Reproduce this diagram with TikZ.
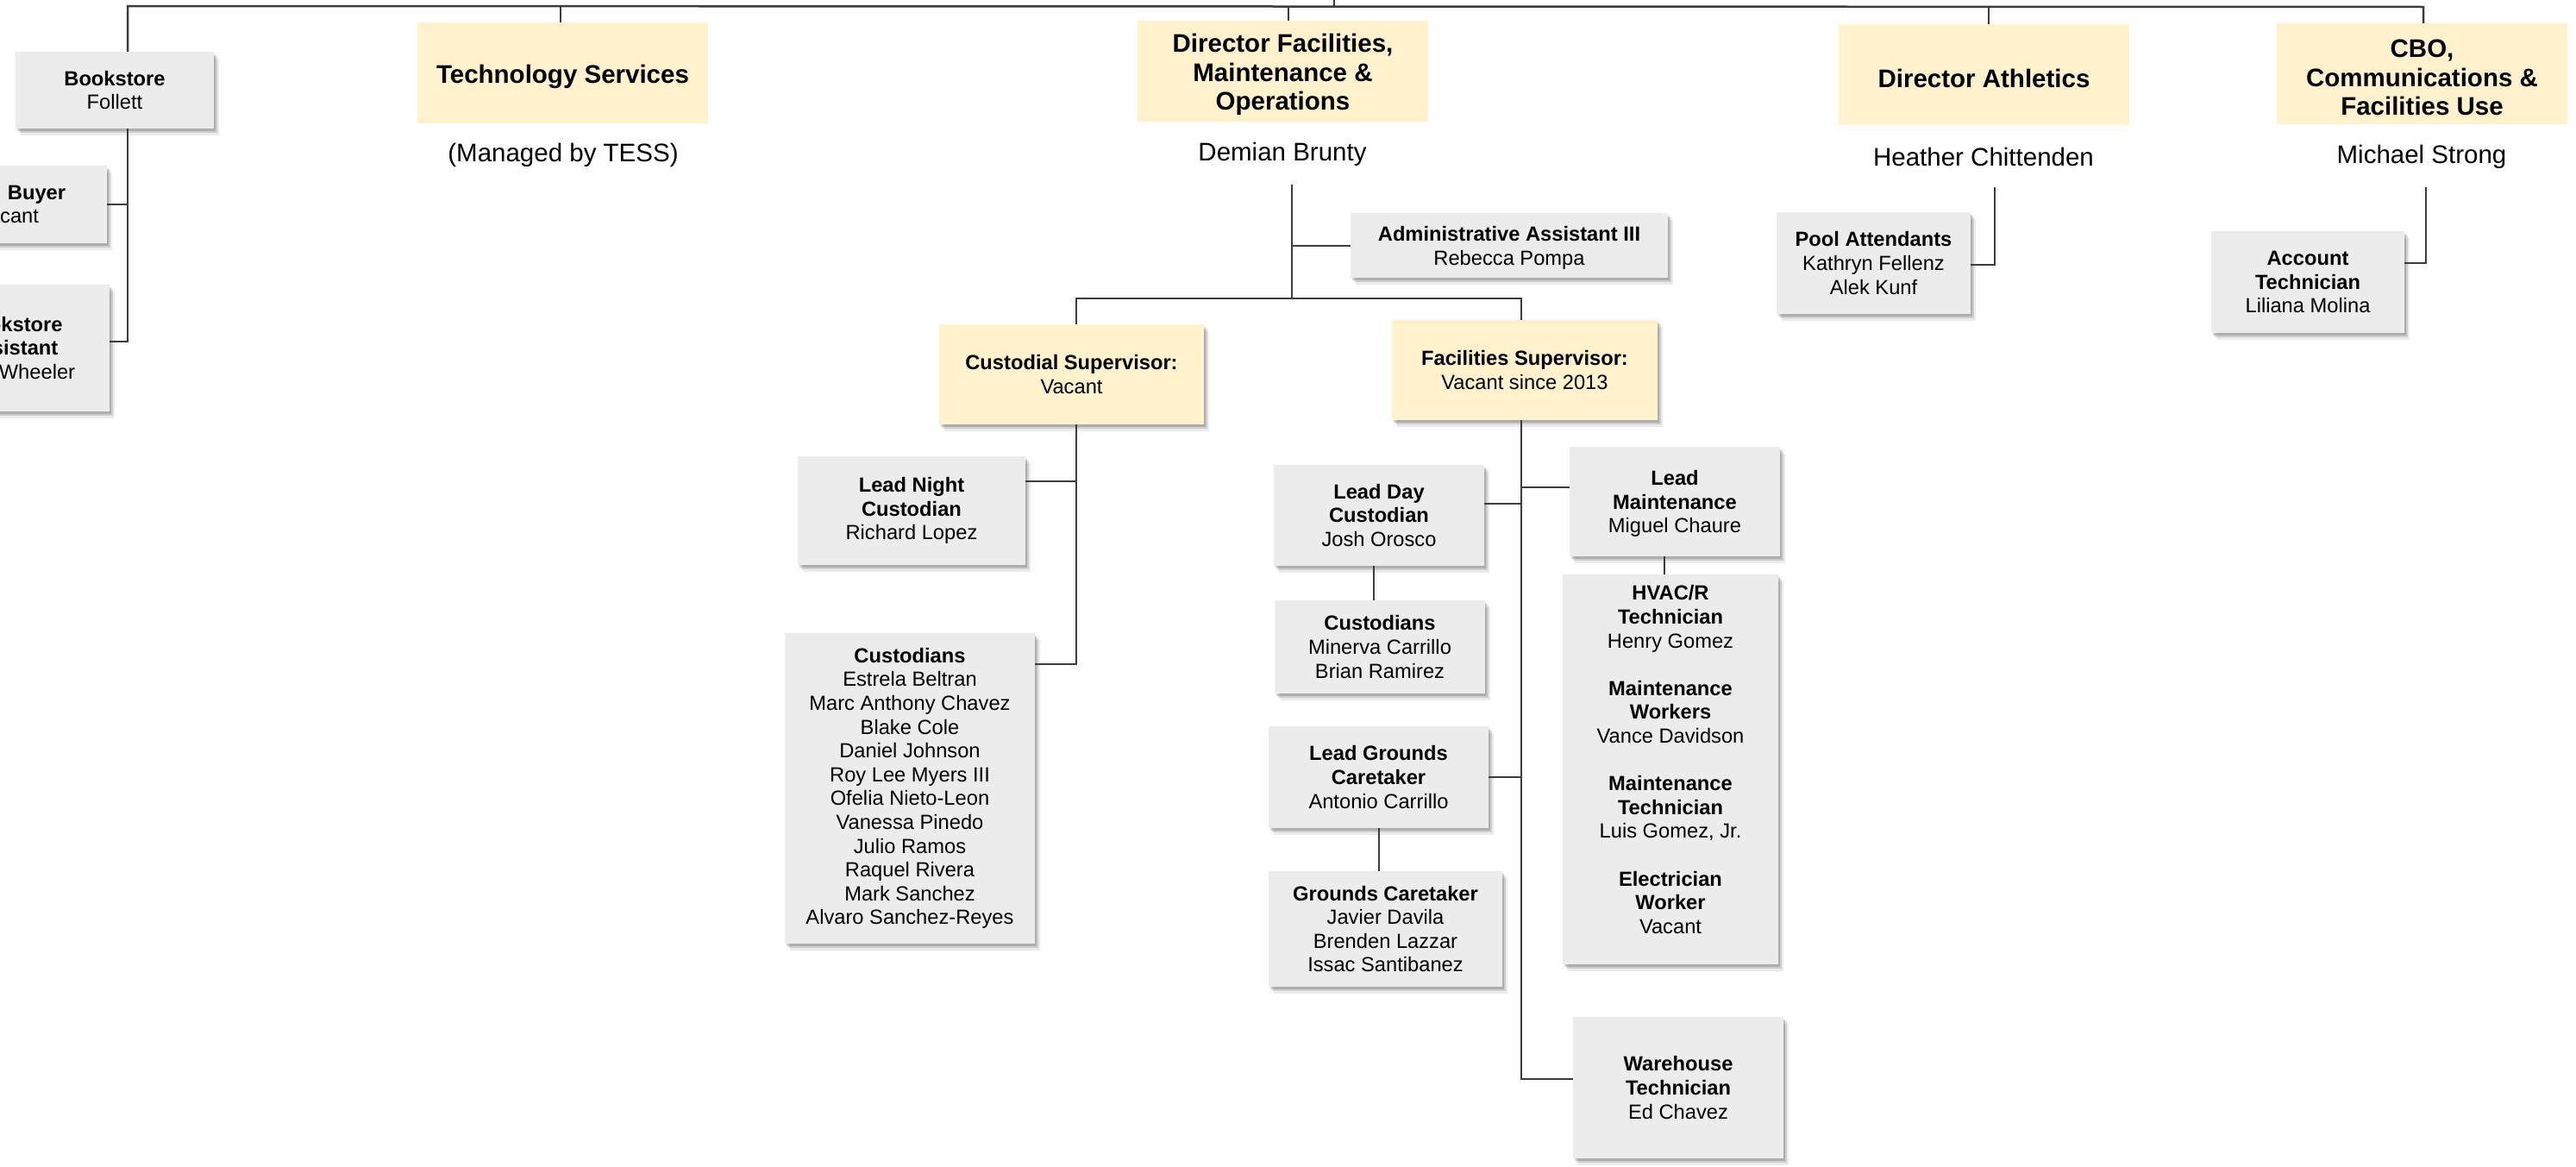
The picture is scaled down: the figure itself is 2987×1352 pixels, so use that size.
\documentclass[tikz,border=0pt]{standalone}
\usepackage{fontspec}
\setmainfont{Liberation Sans}
\usetikzlibrary{shadows}
\definecolor{boxgray}{HTML}{ECECEC}
\definecolor{boxyellow}{HTML}{FFF2CC}
\definecolor{linegray}{HTML}{3C3C3C}
\newcommand{\tstrut}{\rule{0pt}{30pt}}
\begin{document}
\begin{tikzpicture}[x=1pt,y=-1pt,
  softshadow/.style={
    general shadow={shadow xshift=2pt,shadow yshift=-3pt,fill=black,opacity=.16},
    general shadow={shadow xshift=4pt,shadow yshift=-5pt,fill=black,opacity=.12},
    general shadow={shadow xshift=6pt,shadow yshift=-8pt,fill=black,opacity=.08}},
  gbox/.style={fill=boxgray, softshadow, inner sep=0pt, align=center,
    font=\fontsize{23.7}{27.6}\selectfont},
  ybox/.style={gbox, fill=boxyellow},
  tbox/.style={fill=boxyellow, inner sep=0pt, align=center,
    font=\bfseries\fontsize{29.5}{33.5}\selectfont},
  nametext/.style={inner sep=0pt, minimum height=70pt,
    font=\fontsize{29.5}{33.5}\selectfont},
  conn/.style={draw=linegray, line width=2pt},
  bar/.style={draw=linegray, line width=2.5pt},
]
\useasboundingbox (0,0) rectangle (2987,1352);

% ---------- top level titles ----------
\node[tbox, minimum width=337pt, minimum height=117pt] (techsvc) at (652.5,84.5) {\tstrut Technology Services};
\node[nametext] (managed) at (653,180) {(Managed by TESS)};

\node[tbox, minimum width=337pt, minimum height=117pt] (dirfac) at (1487.5,82.5) {\tstrut Director Facilities,\\Maintenance \&\\Operations};
\node[nametext] (demian) at (1487,179) {Demian Brunty};

\node[tbox, minimum width=337pt, minimum height=117pt] (dirath) at (2300.5,86.5) {\tstrut Director Athletics};
\node[nametext] (heather) at (2300,182) {Heather Chittenden};

\node[tbox, minimum width=337pt, minimum height=117pt] (cbo) at (2808.5,85.5) {\tstrut CBO,\\Communications \&\\Facilities Use};
\node[nametext] (michael) at (2808,182) {Michael Strong};

% ---------- bookstore branch ----------
\node[gbox, minimum width=230pt, minimum height=89pt] (bookstore) at (133,104.5) {\textbf{Bookstore}\\Follett};
\node[gbox, minimum width=230pt, minimum height=90pt] (buyer) at (9,237) {\hspace*{67pt}\textbf{Buyer}\\Vacant};
\node[gbox, minimum width=226pt, minimum height=147pt] (bkasst) at (14,403.5) {\textbf{Bookstore}\\\textbf{Assistant}\\\hspace*{58pt}Wheeler};

% ---------- facilities branch ----------
\node[gbox, minimum width=368pt, minimum height=75pt] (admin) at (1750,284.5) {\rule{0pt}{23pt}\textbf{Administrative Assistant III}\\Rebecca Pompa};
\node[ybox, minimum width=307pt, minimum height=116pt] (custsup) at (1242.5,434) {\textbf{Custodial Supervisor:}\\Vacant};
\node[ybox, minimum width=308pt, minimum height=116pt] (facsup) at (1768,429) {\textbf{Facilities Supervisor:}\\Vacant since 2013};

\node[gbox, minimum width=264pt, minimum height=126pt] (leadnight) at (1057,592) {\textbf{Lead Night}\\\textbf{Custodian}\\Richard Lopez};
\node[gbox, minimum width=290pt, minimum height=360pt] (custbig) at (1055,914) {\textbf{Custodians}\\Estrela Beltran\\Marc Anthony Chavez\\Blake Cole\\Daniel Johnson\\Roy Lee Myers III\\Ofelia Nieto-Leon\\Vanessa Pinedo\\Julio Ramos\\Raquel Rivera\\Mark Sanchez\\Alvaro Sanchez-Reyes};

\node[gbox, minimum width=244pt, minimum height=117pt] (leadday) at (1599,597.5) {\textbf{Lead Day}\\\textbf{Custodian}\\Josh Orosco};
\node[gbox, minimum width=244pt, minimum height=108pt] (custsmall) at (1600,750) {\textbf{Custodians}\\Minerva Carrillo\\Brian Ramirez};
\node[gbox, minimum width=255pt, minimum height=118pt] (leadgrounds) at (1598.5,901) {\textbf{Lead Grounds}\\\textbf{Caretaker}\\Antonio Carrillo};
\node[gbox, minimum width=271pt, minimum height=134pt] (grounds) at (1606.5,1077) {\textbf{Grounds Caretaker}\\Javier Davila\\Brenden Lazzar\\Issac Santibanez};

\node[gbox, minimum width=244pt, minimum height=127pt] (leadmaint) at (1942,581.5) {\rule{0pt}{22pt}\textbf{Lead}\\\textbf{Maintenance}\\Miguel Chaure};
\node[gbox, minimum width=250pt, minimum height=452pt] (hvac) at (1937,892) {\textbf{HVAC/R}\\\textbf{Technician}\\Henry Gomez\\[27.6pt]\textbf{Maintenance}\\\textbf{Workers}\\Vance Davidson\\[27.6pt]\textbf{Maintenance}\\\textbf{Technician}\\Luis Gomez, Jr.\\[27.6pt]\textbf{Electrician}\\\textbf{Worker}\\Vacant\rule[-23pt]{0pt}{23pt}};
\node[gbox, minimum width=244pt, minimum height=164pt] (warehouse) at (1946,1261) {\textbf{Warehouse}\\\textbf{Technician}\\Ed Chavez};

% ---------- athletics / cbo ----------
\node[gbox, minimum width=225pt, minimum height=118pt] (pool) at (2172.5,305) {\textbf{Pool Attendants}\\Kathryn Fellenz\\Alek Kunf};
\node[gbox, minimum width=224pt, minimum height=118pt] (accttech) at (2676,327) {\textbf{Account}\\\textbf{Technician}\\Liliana Molina};

% ---------- connectors ----------
\coordinate (tl) at (148,7);
\coordinate (tp) at (1547,0);
\coordinate (tx) at (650,7);
\coordinate (dfx) at (1494,7);
\coordinate (dax) at (2306,8);
\coordinate (cbx) at (2810,8);

\draw[bar] (tl |- bookstore.north) -- (tl) -- (cbx) -- (cbx |- cbo.north);
\draw[conn] (tp) -- (tp |- tl);
\draw[conn] (tx) -- (tx |- techsvc.north);
\draw[conn] (dfx) -- (dfx |- dirfac.north);
\draw[conn] (dax) -- (dax |- dirath.north);

% bookstore
\coordinate (bkx) at (148,396);
\draw[conn] (tl |- bookstore.south) -- (bkx) -- (bkx -| bkasst.east);
\draw[conn] (buyer.east) -- (buyer.east -| bkx);

% facilities
\coordinate (fj) at (1498,346);
\coordinate (cj) at (1248,346);
\coordinate (fsj) at (1764,346);
\draw[conn] (demian.south -| fj) -- (fj);
\draw[conn] (admin.west) -- (admin.west -| fj);
\draw[bar] (cj |- custsup.north) -- (cj) -- (fsj) -- (fsj |- facsup.north);

\coordinate (cend) at (1248,770);
\coordinate (lnj) at (1248,558);
\draw[conn] (cj |- custsup.south) -- (cend) -- (cend -| custbig.east);
\draw[conn] (lnj) -- (lnj -| leadnight.east);

\coordinate (fend) at (1764,1251);
\coordinate (ldj) at (1764,584);
\coordinate (lmj) at (1764,565);
\coordinate (csx) at (1593,700);
\coordinate (hvx) at (1930,700);
\draw[conn] (fsj |- facsup.south) -- (fend) -- (fend -| warehouse.west);
\draw[conn] (ldj) -- (ldj -| leadday.east);
\draw[conn] (lmj) -- (lmj -| leadmaint.west);
\draw[conn] (leadgrounds.east) -- (leadgrounds.east -| fsj);
\draw[conn] (csx |- leadday.south) -- (csx |- custsmall.north);
\draw[conn] (hvx |- leadmaint.south) -- (hvx |- hvac.north);
\draw[conn] (leadgrounds.south) -- (leadgrounds.south |- grounds.north);

% athletics
\coordinate (hj) at (2313,307);
\draw[conn] (heather.south -| hj) -- (hj) -- (hj -| pool.east);
% cbo
\coordinate (mj) at (2813,305);
\draw[conn] (michael.south -| mj) -- (mj) -- (mj -| accttech.east);
\end{tikzpicture}
\end{document}
